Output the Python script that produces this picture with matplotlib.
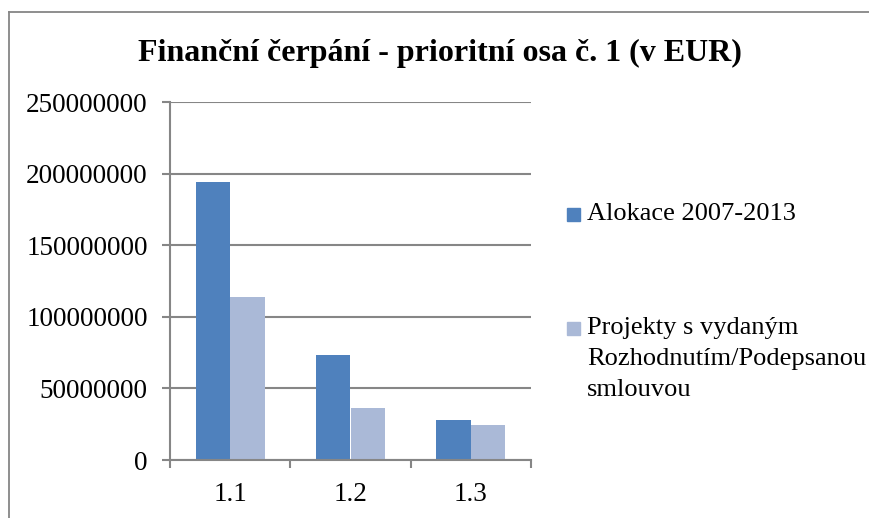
import matplotlib
matplotlib.use("Agg")
import matplotlib.pyplot as plt
from matplotlib.patches import Rectangle
from matplotlib.lines import Line2D
import numpy as np

categories = ["1.1", "1.2", "1.3"]
alokace = [194000000, 73300000, 27900000]
projekty = [114000000, 36100000, 24400000]
series_labels = ["Alokace 2007-2013", "Projekty s vydaným\nRozhodnutím/Podepsanou\nsmlouvou"]
yticks = [0, 50000000, 100000000, 150000000, 200000000, 250000000]
title = "Finanční čerpání - prioritní osa č. 1 (v EUR)"

c1 = "#4F81BD"
c2 = "#AAB9D7"
grid_c = "#868686"

plt.rcParams['font.family'] = ['Liberation Serif', 'DejaVu Serif']

W, H = 869, 518
fig = plt.figure(figsize=(W / 100, H / 100), dpi=100)

# outer border (only left and top visible)
fig.add_artist(Line2D([9 / W, 9 / W], [0, 1 - 12 / H], transform=fig.transFigure,
                      color=grid_c, linewidth=1.3))
fig.add_artist(Line2D([9 / W, 1], [1 - 12 / H, 1 - 12 / H], transform=fig.transFigure,
                      color=grid_c, linewidth=1.3))

ax = fig.add_axes([170 / W, 1 - 460 / H, (531 - 170) / W, (460 - 102) / H])

x = np.arange(len(categories))
bw = 1 / 3.5
ax.bar(x - bw / 2, alokace, width=bw, color=c1, label=series_labels[0])
ax.bar(x + bw / 2, projekty, width=bw, color=c2, label=series_labels[1])

ax.set_xlim(-0.5, len(categories) - 0.5)
ax.set_ylim(0, 250000000)
ax.set_yticks(yticks)
ax.set_yticklabels([str(v) for v in yticks])
ax.set_xticks(x)
ax.set_xticklabels(categories)
ax.set_xticks(np.arange(-0.5, len(categories)), minor=True)

ax.yaxis.grid(True, color=grid_c, linewidth=1.5)
ax.set_axisbelow(True)
for s in ["top", "right"]:
    ax.spines[s].set_visible(False)
for s in ["left", "bottom"]:
    ax.spines[s].set_color(grid_c)
    ax.spines[s].set_linewidth(1.5)

ax.tick_params(axis="y", direction="out", length=6, width=1.5, color=grid_c,
               labelsize=19.5, pad=10)
ax.tick_params(axis="x", which="major", length=0, labelsize=19.5, pad=16)
ax.tick_params(axis="x", which="minor", direction="out", length=6, width=1.5, color=grid_c)

fig.text(440 / W, 1 - 53 / H, title, ha="center", va="center",
         fontsize=23, fontweight="bold")

# legend
leg_items = [(c1, [series_labels[0]], 214.5), (c2, series_labels[1].split("\n"), 328)]
for col, lines, yc in leg_items:
    fig.patches.append(Rectangle((567 / W, 1 - (yc + 6.5) / H), 13 / W, 13 / H,
                                 transform=fig.transFigure, color=col))
    for i, ln in enumerate(lines):
        fig.text(587 / W, 1 - (yc + i * 31) / H, ln, ha="left", va="center", fontsize=19)

fig.savefig("out.png", dpi=100)
